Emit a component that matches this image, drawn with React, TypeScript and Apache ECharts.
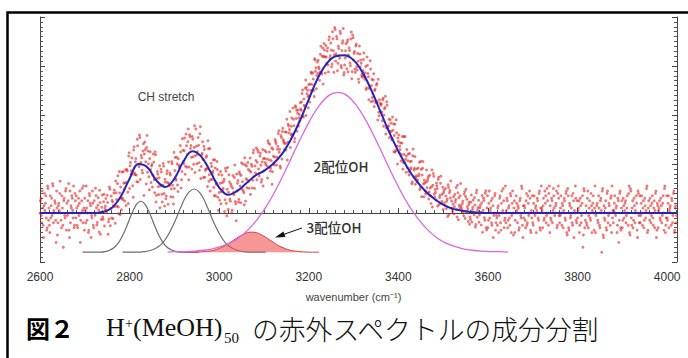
import React, { useEffect, useRef } from "react";
import * as echarts from "echarts";

// ---- axes ----
const X_MIN = 2600;
const X_MAX = 4022;
const X_INTERVAL = 200;
const Y_MIN = -1;
const Y_MAX = 4;
const COMPONENT_BASE = -0.8;

// ---- fitted total curve (blue), x = 2600..4020 step 20 ----
const fitStart = 2600;
const fitStep = 20;
const fitValues = [
  0, 0, 0, 0, 0, 0, 0, 0.02, 0.1, 0.33, 0.7, 1.0, 0.93, 0.66, 0.53, 0.7, 1.05,
  1.26, 1.15, 0.85, 0.52, 0.37, 0.45, 0.6, 0.76, 0.86, 1.0, 1.2, 1.5, 1.88,
  2.32, 2.75, 3.05, 3.2, 3.22, 3.12, 2.87, 2.5, 2.07, 1.64, 1.26, 0.93, 0.66,
  0.45, 0.29, 0.17, 0.09, 0.05, 0.02, 0.01, 0, 0, 0, 0, 0, 0, 0, 0, 0, 0, 0, 0,
  0, 0, 0, 0, 0, 0, 0, 0, 0, 0,
];

// ---- CH stretch component 1 (gray), x = 2695..2955 step 10 ----
const gray1Start = 2695;
const gray1Step = 10;
const gray1Values = [
  -0.8, -0.8, -0.8, -0.8, -0.8, -0.79, -0.76, -0.71, -0.61, -0.45, -0.24,
  -0.01, 0.17, 0.24, 0.17, -0.01, -0.24, -0.45, -0.61, -0.71, -0.76, -0.79,
  -0.8, -0.8, -0.8, -0.8, -0.8,
];

// ---- CH stretch component 2 (gray), x = 2784..3104 step 10 ----
const gray2Start = 2784;
const gray2Step = 10;
const gray2Values = [
  -0.8, -0.8, -0.8, -0.8, -0.8, -0.79, -0.77, -0.74, -0.69, -0.61, -0.48,
  -0.31, -0.11, 0.11, 0.31, 0.44, 0.49, 0.44, 0.31, 0.11, -0.11, -0.31, -0.48,
  -0.61, -0.69, -0.74, -0.77, -0.79, -0.8, -0.8, -0.8, -0.8, -0.8,
];

// ---- 3-coordinated OH (red, filled), x = 2923..3223 step 10 ----
const redStart = 2923;
const redStep = 10;
const redValues = [
  -0.8, -0.8, -0.8, -0.795, -0.79, -0.78, -0.77, -0.745, -0.71, -0.67, -0.61,
  -0.55, -0.49, -0.44, -0.4, -0.39, -0.4, -0.44, -0.49, -0.55, -0.61, -0.67,
  -0.71, -0.745, -0.77, -0.78, -0.79, -0.795, -0.8, -0.8, -0.8,
];

// ---- 2-coordinated OH (pink), x = 2885..3645 step 20 ----
const pinkStart = 2885;
const pinkStep = 20;
const pinkValues = [
  -0.8, -0.79, -0.79, -0.78, -0.76, -0.73, -0.68, -0.61, -0.5, -0.34, -0.13,
  0.13, 0.45, 0.81, 1.2, 1.58, 1.93, 2.21, 2.4, 2.46, 2.4, 2.21, 1.93, 1.58,
  1.2, 0.81, 0.45, 0.13, -0.13, -0.34, -0.5, -0.61, -0.68, -0.73, -0.76, -0.78,
  -0.79, -0.79, -0.8,
];

// ---- measured points: residuals from the fit, one hex char per point ----
// each string is one 20 cm-1 bin starting at 2600; set A at even x, set B at odd x
const dotStart = 2600;
const dotBin = 20;
const dotStep = 2;
const dotUnit = 0.1;
const dotResidualsA = [
  "9c7a4db86e", "a58cf79b3a", "7bd96a2c8e", "b9f47ac86d", "8a6cb39e7a",
  "c7a95db48b", "69ea7c5b9a", "8b6a9c47d9", "7a9c5b8e6a", "b68d9a5c7e",
  "7ca94e8b6d", "9f6b8c3ead", "8a5d7b9c6e", "6b8a4c79d5", "a7c59b6d84",
  "7d8b5a9c6e", "9b6e7c4da8", "c8a5e79b6f", "7a9c68b5d8", "5b8a7d69c4",
  "8a6c9b5e7a", "6d8b5a9c73", "9b7c6ea85d", "a8d9b6c7e9", "bc8ea9d7b6",
  "9dab7ec8a5", "c9ad8bea7d", "8eb9ac6dbf", "ad9c7eb8ca", "9bce8ad7ba",
  "c8ad9b7eca", "ab8d9c6ebd", "9c7eab8d6f", "8d6b9e7ac5", "7a9c6b8d5e",
  "9b7d8a6cb8", "8c9a7eb69d", "a8c7b9d68b", "9b8dac7e9a", "8ca9b7d8c6",
  "b9a8c7e9ab", "9c8ba7d9b8", "a9cb8e7dab", "9bac8d9b7e", "ab9c8ead9b",
  "8c9ba7dcb9", "9a8cb9e7ac", "a9b8dc9a7b", "8b7a9c6d8a", "7a9b5c8d6a",
  "6b8a7c49d7", "8a5c7b9e68", "7c6a8d5b9a", "59b7a6c8e4", "8a6d7b9c58",
  "7b9a5c8d6a", "a6c8b7e9d5", "8c7ea9b6dc", "7a9b6c8d5e", "6b8a7d49c7",
  "8a5c7b2e69", "7c6a8d5b9a", "59b7a6c1e4", "8a6d7b9c58", "7b9a5c3d6a",
  "6c8b7a9d5e", "8a6c79b4d7", "7b9a6c8e5a", "9c7b8a6d4b", "6a8c7b9e58",
  "8b6a9c7d5a", "7",
];
const dotResidualsB = [
  "b8d6a9c5e7", "6ca8e9b7d4", "a9f7c6b8d5", "8b5dac9e6b", "c6a8d7b9e5",
  "9e7b5ca8d6", "b8c6a9d47c", "7c9b8a6d5b", "a6b8d9c7e5", "8d7a6c9b4e",
  "b9c6d8a7e5", "8e9a7dbc5f", "c7b9a6d8e4", "9a6c8b5d7a", "6b9d8a7c5e",
  "a8c6b9d47b", "8d7b9e6ca5", "b6e8a9c7d4", "9c5b7a8e6d", "7a9c5b8d6b",
  "6c8a9b7d4e", "9b7a5c8e6c", "a6c9b8d7e5", "c9b7dab8e6", "9ebd8ca7db",
  "bac9ead8c7", "a8dc9bea6c", "dbac8e9cb7", "b9ea7dcb8a", "cad8b9ecb7",
  "9bdac8eb7c", "ca9e8dbc7a", "b8d9c7ea9e", "9c7a8d6be5", "8b6c9a7e6d",
  "a7c8b6d9a8", "9d8b7ca8e6", "b7da8c9e7a", "a9c7be8d9b", "9b8dca7e9b",
  "cab9d8ae7c", "a8c9b7ead9", "b9ad8cbe7a", "8dbc9a7ebd", "9acbd8ae9c",
  "b9c8ad7cea", "8b9ad7cb9e", "9a8c7db9a6", "7c9b8a6d9b", "8a6c9b7d5c",
  "7d9b6a8c58", "6a8c5d9b7e", "9b7a6c8d4b", "7c9a5b8e6a", "a7b6c8d59c",
  "6c8a9b7d5e", "9a7dc8b6ea", "7b9c8ad6e8", "8c6a9b7d4c", "5a8c6b9e7b",
  "9b6a8c4d7a", "6d8b7a9c5e", "8a7c6b9d4a", "7b5d8a6ce9", "9c8a6b7d5b",
  "7a9b8c6e4d", "6b7a9c5d8c", "8c6b7a9e5b", "7a8c6b9d5a", "9b7a8c5e6c",
  "7c9a6b8d5a", "8",
];
const dotCenterA = 9.0;
const dotCenterB = 8.5;

// ---- texts ----
const xAxisName = "wavenumber (cm\u207B\u00B9)";
const labelCH = "CH stretch";
const label2OH = "2配位OH";
const label3OH = "3配位OH";
const captionFig = "図２";
const captionH = "H";
const captionSup = "+";
const captionMeOH = "(MeOH)";
const captionSub = "50";
const captionRest = "の赤外スペクトルの成分分割";

function pairs(start: number, step: number, values: number[]) {
  return values.map((v, i) => [start + i * step, v]);
}

function fitAt(x: number) {
  const t = (x - fitStart) / fitStep;
  const i = Math.max(0, Math.min(Math.floor(t), fitValues.length - 2));
  const f = t - i;
  return fitValues[i] * (1 - f) + fitValues[i + 1] * f;
}

function buildDots(bins: string[], xOffset: number, center: number) {
  const out: number[][] = [];
  bins.forEach((bin, k) => {
    for (let j = 0; j < bin.length; j++) {
      const x = dotStart + k * dotBin + j * dotStep + xOffset;
      if (x > X_MAX) continue;
      const r = (parseInt(bin[j], 16) - center) * dotUnit;
      out.push([x, fitAt(x) + r]);
    }
  });
  return out;
}

export default function App() {
  const ref = useRef<HTMLDivElement>(null);

  useEffect(() => {
    document.body.style.margin = "0";
    const chart = echarts.init(ref.current!, null, { renderer: "svg" });

    const yAxisCommon = {
      type: "value" as const,
      min: Y_MIN,
      max: Y_MAX,
      interval: 1,
      axisLine: { show: true, lineStyle: { color: "#444", width: 1 } },
      axisTick: { show: true, inside: true, length: 5, lineStyle: { color: "#444" } },
      minorTick: { show: true, splitNumber: 10, length: 3, lineStyle: { color: "#555" } },
      axisLabel: { show: false },
      splitLine: { show: false },
      minorSplitLine: { show: false },
    };

    const textFont = "Liberation Sans, Arial, sans-serif";
    const cjkSans = "Noto Sans CJK JP, sans-serif";
    const serif = "Liberation Serif, serif";

    const dotStyle = { color: "rgba(226,16,16,0.7)" };

    const bottomLeft = {
      align: "left",
      verticalAlign: "bottom",
      textAlign: "left",
      textVerticalAlign: "bottom",
    };
    const centered = {
      align: "center",
      verticalAlign: "middle",
      textAlign: "center",
      textVerticalAlign: "middle",
    };

    chart.setOption({
      animation: false,
      backgroundColor: "#fff",
      grid: { left: 40, right: 11, top: 17, bottom: 96 },
      xAxis: {
        type: "value",
        min: X_MIN,
        max: X_MAX,
        interval: X_INTERVAL,
        name: xAxisName,
        nameLocation: "middle",
        nameGap: 29,
        nameTextStyle: {
          fontSize: 11,
          color: "#444",
          fontFamily: textFont,
          padding: [0, 10, 0, 0],
        },
        axisLine: { show: true, lineStyle: { color: "#444", width: 1 } },
        axisTick: { show: true, inside: true, length: 5, lineStyle: { color: "#444" } },
        minorTick: { show: true, splitNumber: 10, length: 3, lineStyle: { color: "#555" } },
        axisLabel: {
          show: true,
          margin: 9,
          fontSize: 12,
          color: "#333",
          fontFamily: textFont,
          showMaxLabel: false,
          formatter: (v: number) => (v % X_INTERVAL === 0 ? String(v) : ""),
        },
        splitLine: { show: false },
      },
      yAxis: [
        { ...yAxisCommon, position: "left" },
        { ...yAxisCommon, position: "right" },
      ],
      series: [
        {
          type: "scatter",
          data: buildDots(dotResidualsA, 0, dotCenterA),
          symbolSize: 2.9,
          itemStyle: dotStyle,
          z: 1,
        },
        {
          type: "scatter",
          data: buildDots(dotResidualsB, 1, dotCenterB),
          symbolSize: 2.9,
          itemStyle: dotStyle,
          z: 1,
        },
        {
          type: "line",
          data: pairs(gray1Start, gray1Step, gray1Values),
          smooth: 0.3,
          showSymbol: false,
          lineStyle: { color: "#6e6e6e", width: 1.2 },
          z: 2,
        },
        {
          type: "line",
          data: pairs(gray2Start, gray2Step, gray2Values),
          smooth: 0.3,
          showSymbol: false,
          lineStyle: { color: "#6e6e6e", width: 1.2 },
          z: 2,
        },
        {
          type: "line",
          data: pairs(redStart, redStep, redValues),
          smooth: 0.3,
          showSymbol: false,
          lineStyle: { color: "#d84040", width: 1 },
          areaStyle: { color: "rgba(238,80,80,0.85)", origin: COMPONENT_BASE },
          z: 3,
        },
        {
          type: "line",
          data: pairs(pinkStart, pinkStep, pinkValues),
          smooth: 0.3,
          showSymbol: false,
          lineStyle: { color: "#dd66e0", width: 1.3 },
          z: 3,
        },
        {
          type: "line",
          data: pairs(fitStart, fitStep, fitValues),
          smooth: 0.4,
          showSymbol: false,
          lineStyle: { color: "#2424b8", width: 2 },
          z: 4,
        },
      ],
      graphic: [
        {
          type: "rect",
          silent: true,
          shape: { x: 7.5, y: 12.5, width: 700, height: 360 },
          style: { fill: "none", stroke: "#000", lineWidth: 2.5 },
          z: 10,
        },
        {
          type: "text",
          x: 166,
          y: 97,
          style: { text: labelCH, font: `12px ${textFont}`, fill: "#444", ...centered },
        },
        {
          type: "text",
          x: 341,
          y: 166,
          style: { text: label2OH, font: `500 13.5px ${cjkSans}`, fill: "#333", ...centered },
        },
        {
          type: "text",
          x: 334,
          y: 227,
          style: { text: label3OH, font: `500 13.5px ${cjkSans}`, fill: "#333", ...centered },
        },
        {
          type: "line",
          silent: true,
          shape: { x1: 302, y1: 228, x2: 284, y2: 234.3 },
          style: { stroke: "#111", lineWidth: 1 },
        },
        {
          type: "polygon",
          silent: true,
          shape: { points: [[275, 237.5], [285.4, 237.0], [283.4, 231.4]] },
          style: { fill: "#111" },
        },
        // caption
        {
          type: "text",
          x: 26,
          y: 339,
          style: { text: captionFig, font: `bold 24px ${cjkSans}`, fill: "#000", ...bottomLeft },
        },
        {
          type: "text",
          x: 106,
          y: 340,
          style: { text: captionH, font: `26px ${serif}`, fill: "#111", ...bottomLeft },
        },
        {
          type: "text",
          x: 125,
          y: 330,
          style: { text: captionSup, font: `14px ${serif}`, fill: "#111", ...bottomLeft },
        },
        {
          type: "text",
          x: 133,
          y: 340,
          style: { text: captionMeOH, font: `26px ${serif}`, fill: "#111", ...bottomLeft },
        },
        {
          type: "text",
          x: 224,
          y: 345,
          style: { text: captionSub, font: `15px ${serif}`, fill: "#111", ...bottomLeft },
        },
        {
          type: "text",
          x: 252,
          y: 342,
          style: { text: captionRest, font: `300 26.8px ${cjkSans}`, fill: "#111", ...bottomLeft },
        },
      ],
    });

    return () => chart.dispose();
  }, []);

  return <div ref={ref} style={{ width: 688, height: 358 }} />;
}
